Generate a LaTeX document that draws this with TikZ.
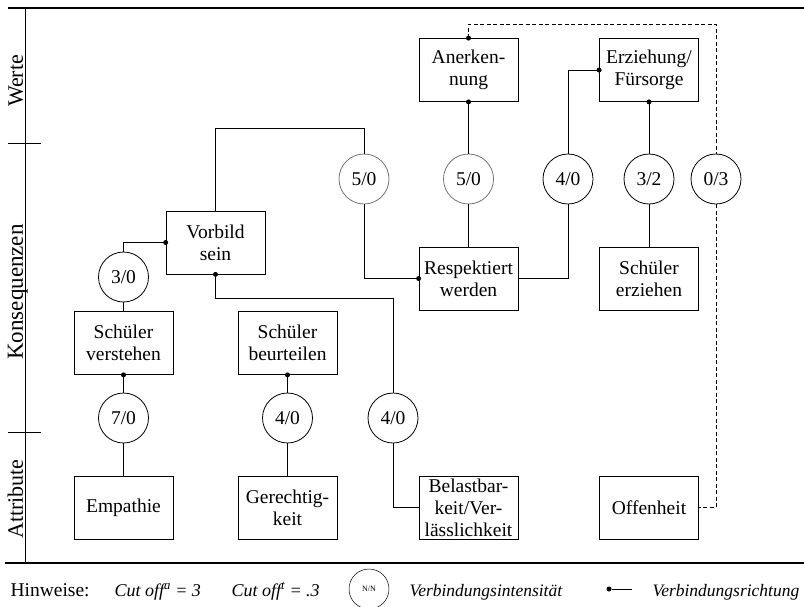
\documentclass[tikz,border=0pt]{standalone}
\usepackage{fontspec}
\setmainfont{Liberation Serif}
\begin{document}
\begin{tikzpicture}[x=1pt,y=-1pt,
  every node/.style={font=\fontsize{19.5}{22}\selectfont},
  box/.style={draw, line width=0.8pt, minimum width=99pt, minimum height=63pt, inner sep=0pt, align=center},
  ring/.style={draw, circle, line width=0.8pt, minimum size=50pt, inner sep=0pt},
  fadering/.style={ring, draw=black!55},
  link/.style={line width=0.8pt},
  dlink/.style={line width=0.8pt, dash pattern=on 4pt off 2.5pt},
  dot/.style={circle, fill=black, inner sep=0pt, minimum size=5pt},
  rule/.style={line width=1.8pt},
  axis/.style={line width=0.8pt},
  level/.style={rotate=90, anchor=base, font=\fontsize{22}{24}\selectfont},
  note/.style={anchor=base west, font=\fontsize{18}{22}\selectfont}
]
\useasboundingbox (0,0) rectangle (804,606);

% frame and level axis
\draw[rule] (8,8) -- (804,8);
\draw[rule] (5,563) -- (804,563);
\draw[axis] (25,8) -- (25,564);
\draw[axis] (8,143) -- (41,143);
\draw[axis] (8,432) -- (41,432);
\node[level] (lvW) at (23,81) {Werte};
\node[level, font=\fontsize{23}{24}\selectfont] (lvK) at (23,292) {Konsequenzen};
\node[level] (lvA) at (23,499) {Attribute};

% concept boxes
\node[box] (anerk)  at (468.5,70)    {Anerken-\\nung};
\node[box] (erz)    at (649,70)      {Erziehung/\\Fürsorge};
\node[box] (vorbild) at (215.5,242.5) {Vorbild\\sein};
\node[box] (resp)   at (468.5,278.5) {Respektiert\\werden};
\node[box] (serz)   at (649,278.5)   {Schüler\\erziehen};
\node[box] (sverst) at (123.5,343)   {Schüler\\verstehen};
\node[box] (sbeurt) at (287.5,343)   {Schüler\\beurteilen};
\node[box] (emp)    at (123.5,507.5) {Empathie};
\node[box] (ger)    at (287.5,507.5) {Gerechtig-\\keit};
\node[box] (bel)    at (468.5,507.5) {Belastbar-\\keit/Ver-\\lässlichkeit};
\node[box] (off)    at (649,507.5)   {Offenheit};

% intensity rings
\node[fadering] (ca) at (364,179)   {5/0};
\node[fadering] (cb) at (468.5,179) {5/0};
\node[ring] (cc) at (568,179)   {4/0};
\node[ring] (cd) at (649,179)   {3/2};
\node[ring] (ce) at (716,179)   {0/3};
\node[ring] (cf) at (123.5,277) {3/0};
\node[ring] (cg) at (123.5,418) {7/0};
\node[ring] (ch) at (287.5,418) {4/0};
\node[ring] (ci) at (393,418)   {4/0};

% connections
\coordinate (kA) at (215.5,128);
\coordinate (kB) at (215.5,298);
\coordinate (kC) at (468.5,24);
\draw[link] (vorbild.north) -- (kA) -| (ca);
\draw[link] (ca) |- (resp.west);
\draw[link] (vorbild.west) -| (cf);
\draw[link] (cf) -- (sverst);
\draw[link] (vorbild.south) -- (kB) -| (ci);
\draw[link] (ci) |- (bel.west);
\draw[link] (sverst.south) -- (cg) -- (emp);
\draw[link] (sbeurt.south) -- (ch) -- (ger);
\draw[link] (anerk.south) -- (cb) -- (resp);
\draw[link] (erz.west) -| (cc);
\draw[link] (cc) |- (resp.east);
\draw[link] (erz.south) -- (cd) -- (serz);
\draw[dlink] (anerk.north) -- (kC) -| (ce);
\draw[dlink] (ce) |- (off.east);

% direction dots
\foreach \p in {vorbild.west, vorbild.south, resp.west, anerk.south, anerk.north, erz.west, erz.south, sverst.south, sbeurt.south}
  \node[dot] at (\p) {};

% notes
\node[note, font=\fontsize{19.5}{22}\selectfont] (n1) at (7,596) {Hinweise:};
\node[note] (n2) at (111,596) {\itshape Cut off\textsuperscript{a} = 3};
\node[note] (n3) at (228,596) {\itshape Cut off\textsuperscript{t} = .3};
\node[draw, circle, line width=0.5pt, minimum size=40pt, inner sep=0pt, font=\fontsize{8}{9}\selectfont] (nN) at (369,589) {N/N};
\node[note, font=\fontsize{17.5}{22}\selectfont] (n4) at (406,596) {\itshape Verbindungsintensität};
\node[dot] (ndot) at (609,589) {};
\coordinate (nend) at (632,589);
\draw[link] (ndot) -- (nend);
\node[note, font=\fontsize{17.5}{22}\selectfont] (n5) at (649,596) {\itshape Verbindungsrichtung};
\end{tikzpicture}
\end{document}
